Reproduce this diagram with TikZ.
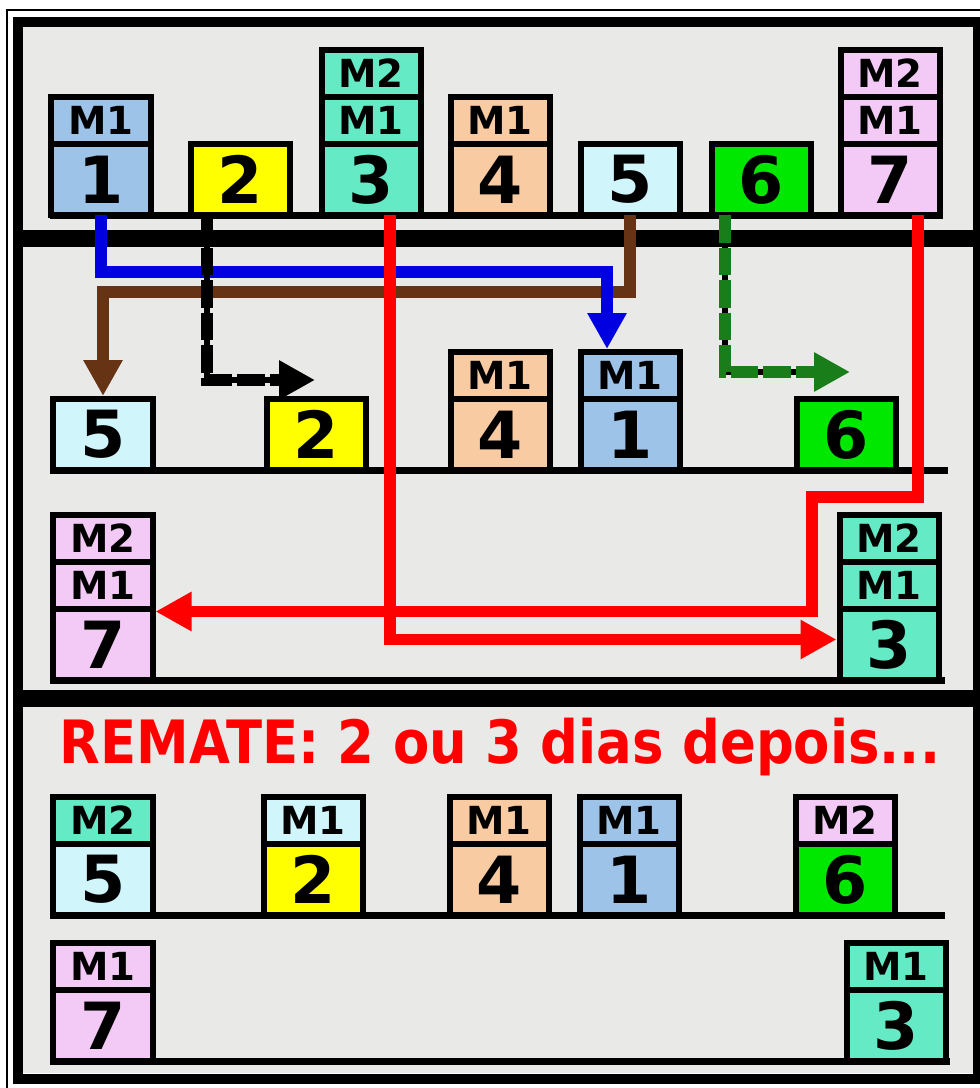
\documentclass[tikz,border=0pt]{standalone}
\usepackage{graphicx}
\usepackage{xcolor,tikz,fontspec}
\setmainfont{DejaVu Sans}
\usetikzlibrary{arrows.meta,positioning}
\definecolor{paper}{RGB}{233,233,231}
\definecolor{cblue}{RGB}{157,195,233}
\definecolor{cyellow}{RGB}{255,255,0}
\definecolor{cteal}{RGB}{100,234,196}
\definecolor{cpeach}{RGB}{248,203,162}
\definecolor{ccyan}{RGB}{208,245,250}
\definecolor{cgreen}{RGB}{0,232,0}
\definecolor{cpink}{RGB}{242,202,245}
\definecolor{ablue}{RGB}{0,0,225}
\definecolor{abrown}{RGB}{102,52,20}
\definecolor{agreen}{RGB}{25,125,25}
\definecolor{ared}{RGB}{255,0,0}
\tikzset{
  num/.style={draw=black,line width=1.2mm,minimum width=19.8mm,minimum height=14.2mm,inner sep=0pt,outer sep=0pt,anchor=south,font=\fontsize{37}{40}\selectfont\bfseries},
  tag/.style={draw=black,line width=1.2mm,minimum width=19.8mm,minimum height=9.4mm,inner sep=0pt,outer sep=0pt,font=\fontsize{22}{24}\selectfont\bfseries},
  shelf/.style={line width=1.4mm},
  bar/.style={line width=3.4mm},
  arr/.style={-{Triangle[width=7.4mm,length=7.2mm]},line width=2.3mm,shorten >=0.6mm},
  dsh/.style={arr,dash pattern=on 5.5mm off 1mm,preaction={draw,-,solid,line width=1.2mm,shorten >=3mm}}
}
\begin{document}
\begin{tikzpicture}[x=0.2mm,y=-0.2mm]
  \useasboundingbox (0,0) rectangle (980,1088);
  \fill[paper] (23,27) rectangle (973,1073);
  \draw[line width=0.3mm] (7,10) rectangle (990,1100);
  \draw[line width=2mm] (18,22) rectangle (978,1079);
  \draw[line width=3mm] (980,22) -- (980,1079);
  \draw[bar] (23,238) -- (973,238);
  \draw[bar] (23,698) -- (973,698);

  \draw[shelf] (50,215) -- (943,215);
  \node[num,fill=cblue] (t1) at (101,215) {1};
  \node[tag,fill=cblue,above=0pt of t1] (t1a) {M1};
  \node[num,fill=cyellow] (t2) at (240,215) {2};
  \node[num,fill=cteal] (t3) at (371,215) {3};
  \node[tag,fill=cteal,above=0pt of t3] (t3a) {M1};
  \node[tag,fill=cteal,above=0pt of t3a] (t3b) {M2};
  \node[num,fill=cpeach] (t4) at (500,215) {4};
  \node[tag,fill=cpeach,above=0pt of t4] (t4a) {M1};
  \node[num,fill=ccyan] (t5) at (630,215) {5};
  \node[num,fill=cgreen] (t6) at (761,215) {6};
  \node[num,fill=cpink] (t7) at (890,215) {7};
  \node[tag,fill=cpink,above=0pt of t7] (t7a) {M1};
  \node[tag,fill=cpink,above=0pt of t7a] (t7b) {M2};

  \draw[shelf] (50,470) -- (948,470);
  \node[num,fill=ccyan] (p5) at (103,470) {5};
  \node[num,fill=cyellow] (p2) at (316,470) {2};
  \node[num,fill=cpeach] (p4) at (500,470) {4};
  \node[tag,fill=cpeach,above=0pt of p4] (p4a) {M1};
  \node[num,fill=cblue] (p1) at (630,470) {1};
  \node[tag,fill=cblue,above=0pt of p1] (p1a) {M1};
  \node[num,fill=cgreen] (p6) at (846,470) {6};

  \draw[shelf] (50,680) -- (945,680);
  \node[num,fill=cpink] (q7) at (103,680) {7};
  \node[tag,fill=cpink,above=0pt of q7] (q7a) {M1};
  \node[tag,fill=cpink,above=0pt of q7a] (q7b) {M2};
  \node[num,fill=cteal] (q3) at (889,680) {3};
  \node[tag,fill=cteal,above=0pt of q3] (q3a) {M1};
  \node[tag,fill=cteal,above=0pt of q3a] (q3b) {M2};

  \node[anchor=base,text=ared,font=\fontsize{34}{38}\selectfont\bfseries] (title) at (500,763) {\scalebox{0.885}[1]{REMATE: 2 ou 3 dias depois...}};

  \draw[shelf] (50,915) -- (945,915);
  \node[num,fill=ccyan] (r5) at (103,915) {5};
  \node[tag,fill=cteal,above=0pt of r5] (r5a) {M2};
  \node[num,fill=cyellow] (r2) at (313,915) {2};
  \node[tag,fill=ccyan,above=0pt of r2] (r2a) {M1};
  \node[num,fill=cpeach] (r4) at (499,915) {4};
  \node[tag,fill=cpeach,above=0pt of r4] (r4a) {M1};
  \node[num,fill=cblue] (r1) at (629,915) {1};
  \node[tag,fill=cblue,above=0pt of r1] (r1a) {M1};
  \node[num,fill=cgreen] (r6) at (845,915) {6};
  \node[tag,fill=cpink,above=0pt of r6] (r6a) {M2};

  \draw[shelf] (50,1061) -- (950,1061);
  \node[num,fill=cpink] (s7) at (103,1061) {7};
  \node[tag,fill=cpink,above=0pt of s7] (s7a) {M1};
  \node[num,fill=cteal] (s3) at (896,1061) {3};
  \node[tag,fill=cteal,above=0pt of s3] (s3a) {M1};

  \coordinate (blk) at (318,380);
  \coordinate (grn) at (853,372);
  \draw[arr,abrown] (t5.south) -- (t5.south |- 0,292) -| (p5.north);
  \draw[arr,ablue] (t1.south) -- (t1.south |- 0,272) -| (607,0 |- p1a.north);
  \draw[dsh,black] (t2.south -| 207,0) |- (blk);
  \draw[dsh,agreen] (t6.south -| 725,0) |- (grn);
  \draw[arr,ared] (t3.south -| 390,0) |- ([yshift=1mm]q3.west);
  \draw[arr,ared] (t7.south -| 918,0) |- (812,497) |- ([yshift=-0.5mm]q7.north east);
\end{tikzpicture}
\end{document}
